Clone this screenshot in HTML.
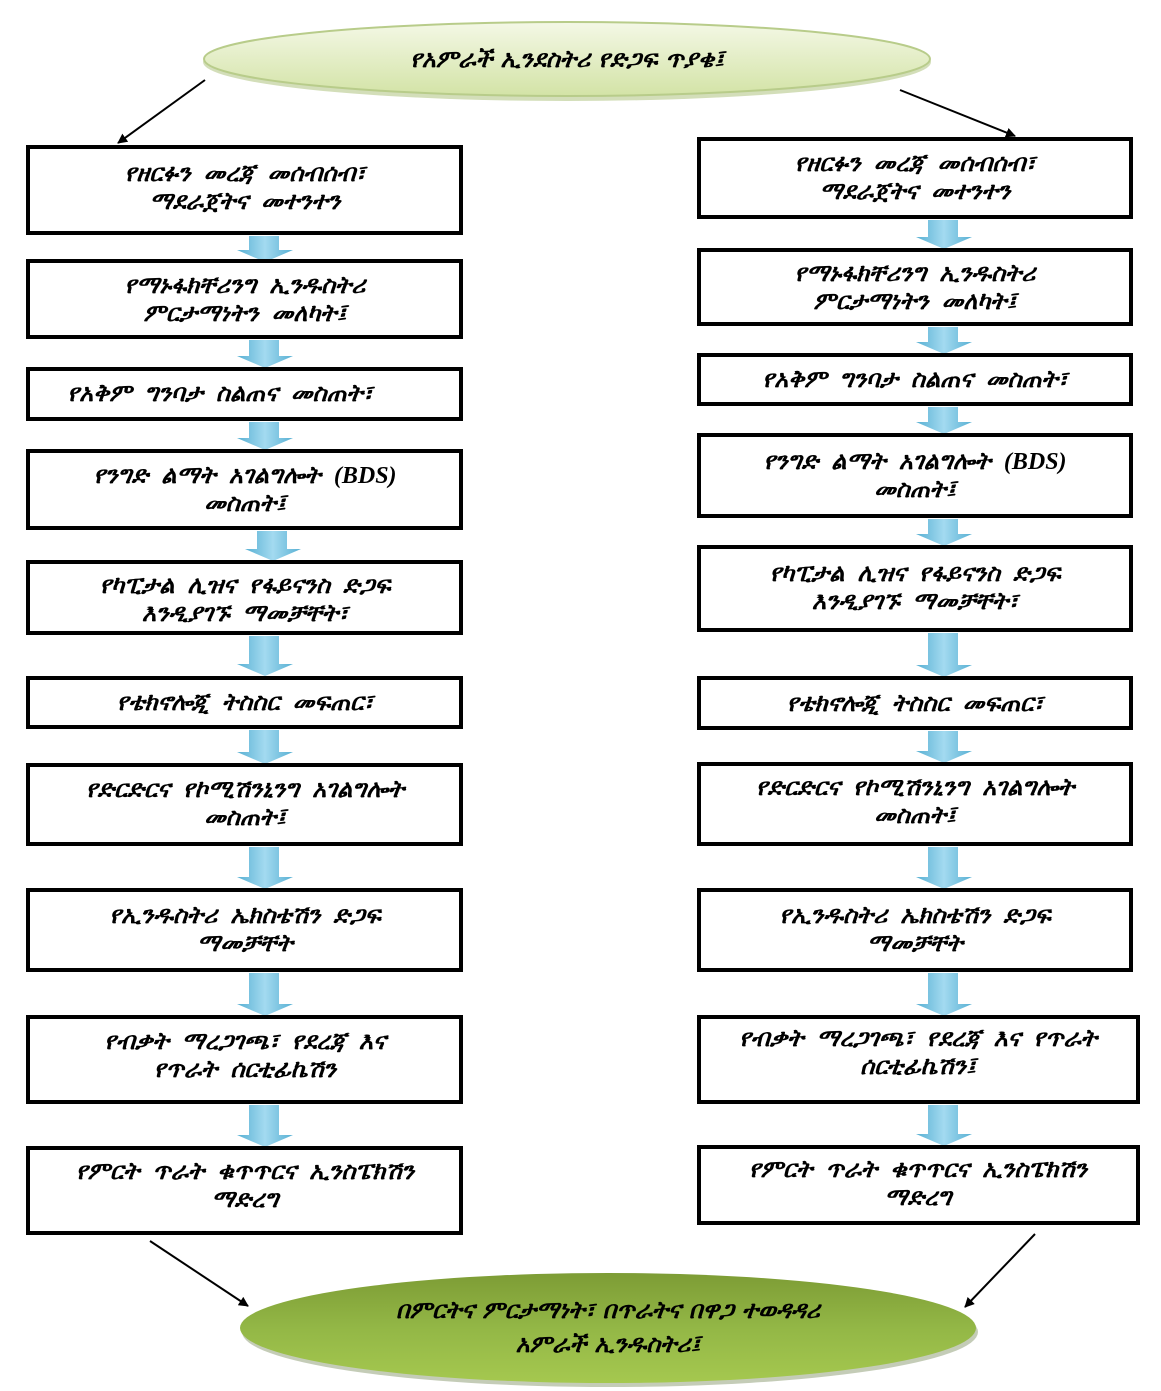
<!DOCTYPE html>
<html><head><meta charset="utf-8"><style>
html,body{margin:0;padding:0;background:#fff}
svg{display:block}
text{font-family:"Liberation Serif","DejaVu Sans",serif;font-style:italic;font-weight:bold;font-size:24px;fill:#000;word-spacing:7px}
text.e{word-spacing:2px}
</style></head><body>
<svg width="1161" height="1391" viewBox="0 0 1161 1391" xmlns="http://www.w3.org/2000/svg">
<defs>
<linearGradient id="g1" x1="0" y1="0" x2="0" y2="1">
<stop offset="0" stop-color="#f4f8e6"/><stop offset="1" stop-color="#d3e3a6"/></linearGradient>
<linearGradient id="g2" x1="0" y1="0" x2="0" y2="1">
<stop offset="0" stop-color="#7d9c35"/><stop offset="0.5" stop-color="#93b746"/><stop offset="1" stop-color="#a5c84f"/></linearGradient>
<linearGradient id="gb" x1="0" y1="0" x2="1" y2="0">
<stop offset="0" stop-color="#58b0d3"/><stop offset="0.5" stop-color="#a3daf0"/><stop offset="1" stop-color="#58b0d3"/></linearGradient>
<marker id="ah" markerWidth="10" markerHeight="10" refX="9" refY="5" orient="auto" markerUnits="userSpaceOnUse">
<path d="M0,0 L10,5 L0,10 z" fill="#000"/></marker>
</defs>
<ellipse cx="567" cy="62" rx="364" ry="39" fill="#b5c88a" opacity="0.6"/>
<ellipse cx="567" cy="59" rx="363" ry="37" fill="url(#g1)" stroke="#b8cc8a" stroke-width="2"/>
<text class="e" x="567" y="67" text-anchor="middle">የአምራች ኢንደስትሪ የድጋፍ ጥያቄ፤</text>
<ellipse cx="610" cy="1332" rx="368" ry="55" fill="#8a9a70" opacity="0.5"/>
<ellipse cx="608" cy="1328" rx="368" ry="55" fill="url(#g2)"/>
<text class="e" x="608" y="1318" text-anchor="middle">በምርትና ምርታማነት፣ በጥራትና በዋጋ ተወዳዳሪ</text>
<text class="e" x="608" y="1352" text-anchor="middle">አምራች ኢንዱስትሪ፤</text>
<g stroke="#000" stroke-width="2" marker-end="url(#ah)">
<line x1="205" y1="80" x2="118" y2="143"/>
<line x1="900" y1="90" x2="1015" y2="136"/>
<line x1="150" y1="1241" x2="248" y2="1306"/>
<line x1="1035" y1="1234" x2="965" y2="1307"/>
</g>
<g fill="url(#gb)">
<path d="M249,236 h30 v14 h14 l-28,12 l-28,-12 h12 z"/>
<path d="M249,340 h30 v16 h14 l-28,12 l-28,-12 h12 z"/>
<path d="M249,422 h30 v16 h14 l-28,12 l-28,-12 h12 z"/>
<path d="M257,531 h30 v18 h14 l-28,12 l-28,-12 h12 z"/>
<path d="M249,636 h30 v28 h14 l-28,12 l-28,-12 h12 z"/>
<path d="M249,730 h30 v22 h14 l-28,12 l-28,-12 h12 z"/>
<path d="M249,847 h30 v30 h14 l-28,12 l-28,-12 h12 z"/>
<path d="M249,973 h30 v31 h14 l-28,12 l-28,-12 h12 z"/>
<path d="M249,1105 h30 v30 h14 l-28,12 l-28,-12 h12 z"/>
<path d="M928,220 h30 v17 h14 l-28,12 l-28,-12 h12 z"/>
<path d="M928,327 h30 v15 h14 l-28,12 l-28,-12 h12 z"/>
<path d="M928,407 h30 v15 h14 l-28,12 l-28,-12 h12 z"/>
<path d="M928,519 h30 v15 h14 l-28,12 l-28,-12 h12 z"/>
<path d="M928,633 h30 v32 h14 l-28,12 l-28,-12 h12 z"/>
<path d="M928,731 h30 v20 h14 l-28,12 l-28,-12 h12 z"/>
<path d="M928,847 h30 v30 h14 l-28,12 l-28,-12 h12 z"/>
<path d="M928,973 h30 v31 h14 l-28,12 l-28,-12 h12 z"/>
<path d="M928,1105 h30 v29 h14 l-28,12 l-28,-12 h12 z"/>
</g>
<g fill="#fff" stroke="#000" stroke-width="4">
<rect x="28" y="147" width="433" height="86"/>
<rect x="28" y="261" width="433" height="76"/>
<rect x="28" y="369" width="433" height="50"/>
<rect x="28" y="451" width="433" height="77"/>
<rect x="28" y="562" width="433" height="71"/>
<rect x="28" y="678" width="433" height="49"/>
<rect x="28" y="765" width="433" height="79"/>
<rect x="28" y="890" width="433" height="80"/>
<rect x="28" y="1017" width="433" height="85"/>
<rect x="28" y="1148" width="433" height="85"/>
<rect x="699" y="139" width="432" height="78"/>
<rect x="699" y="250" width="432" height="74"/>
<rect x="699" y="355" width="432" height="49"/>
<rect x="699" y="435" width="432" height="81"/>
<rect x="699" y="547" width="432" height="83"/>
<rect x="699" y="678" width="432" height="50"/>
<rect x="699" y="764" width="432" height="80"/>
<rect x="699" y="890" width="432" height="80"/>
<rect x="699" y="1017" width="439" height="85"/>
<rect x="699" y="1147" width="439" height="76"/>
</g>
<g text-anchor="middle">
<text x="245" y="181">የዘርፉን መረጃ መሰብሰብ፣</text>
<text x="245" y="209">ማደራጀትና መተንተን</text>
<text x="245" y="293">የማኑፋክቸሪንግ ኢንዱስትሪ</text>
<text x="245" y="321">ምርታማነትን መለካት፤</text>
<text x="220" y="401">የአቅም ግንባታ ስልጠና መስጠት፣</text>
<text x="245" y="483">የንግድ ልማት አገልግሎት (BDS)</text>
<text x="245" y="511">መስጠት፤</text>
<text x="245" y="593">የካፒታል ሊዝና የፋይናንስ ድጋፍ</text>
<text x="245" y="621">እንዲያገኙ ማመቻቸት፣</text>
<text x="245" y="710">የቴክኖሎጂ ትስስር መፍጠር፣</text>
<text x="245" y="797">የድርድርና የኮሚሽንኒንግ አገልግሎት</text>
<text x="245" y="825">መስጠት፤</text>
<text x="245" y="923">የኢንዱስትሪ ኤክስቴሽን ድጋፍ</text>
<text x="245" y="951">ማመቻቸት</text>
<text x="245" y="1049">የብቃት ማረጋገጫ፣ የደረጃ እና</text>
<text x="245" y="1077">የጥራት ሰርቲፊኬሽን</text>
<text x="245" y="1179">የምርት ጥራት ቁጥጥርና ኢንስፔክሽን</text>
<text x="245" y="1207">ማድረግ</text>
<text x="915" y="171">የዘርፉን መረጃ መሰብሰብ፣</text>
<text x="915" y="199">ማደራጀትና መተንተን</text>
<text x="915" y="281">የማኑፋክቸሪንግ ኢንዱስትሪ</text>
<text x="915" y="309">ምርታማነትን መለካት፤</text>
<text x="915" y="387">የአቅም ግንባታ ስልጠና መስጠት፣</text>
<text x="915" y="469">የንግድ ልማት አገልግሎት (BDS)</text>
<text x="915" y="497">መስጠት፤</text>
<text x="915" y="581">የካፒታል ሊዝና የፋይናንስ ድጋፍ</text>
<text x="915" y="609">እንዲያገኙ ማመቻቸት፣</text>
<text x="915" y="711">የቴክኖሎጂ ትስስር መፍጠር፣</text>
<text x="915" y="795">የድርድርና የኮሚሽንኒንግ አገልግሎት</text>
<text x="915" y="823">መስጠት፤</text>
<text x="915" y="923">የኢንዱስትሪ ኤክስቴሽን ድጋፍ</text>
<text x="915" y="951">ማመቻቸት</text>
<text x="918" y="1046">የብቃት ማረጋገጫ፣ የደረጃ እና የጥራት</text>
<text x="918" y="1074">ሰርቲፊኬሽን፤</text>
<text x="918" y="1177">የምርት ጥራት ቁጥጥርና ኢንስፔክሽን</text>
<text x="918" y="1205">ማድረግ</text>
</g>
</svg>
</body></html>
